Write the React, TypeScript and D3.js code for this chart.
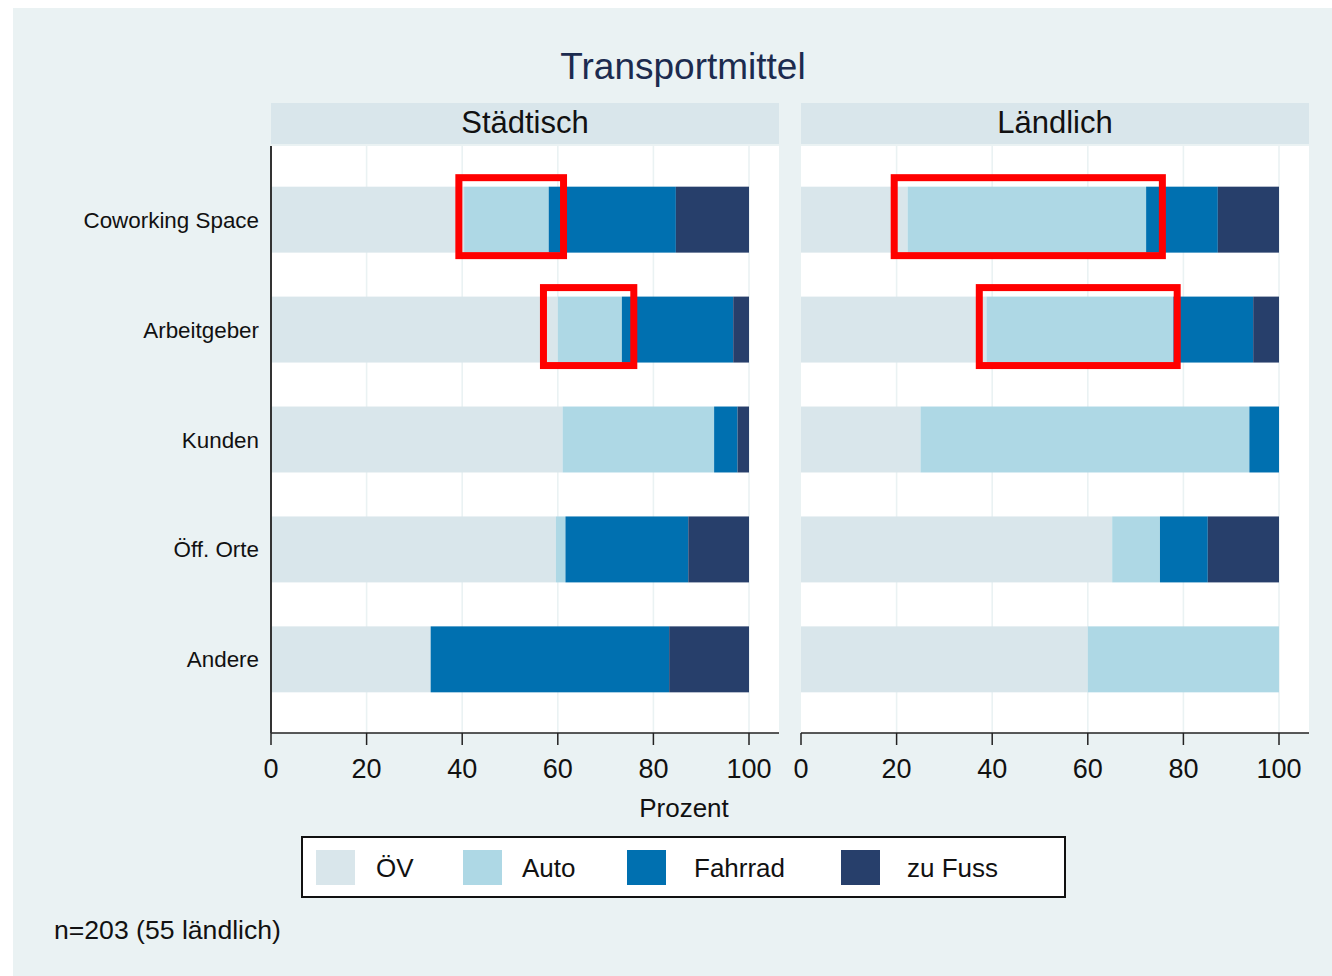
import React from "react";
import * as d3 from "d3";

const categories = ["Coworking Space", "Arbeitgeber", "Kunden", "Öff. Orte", "Andere"];
const modes = ["ÖV", "Auto", "Fahrrad", "zu Fuss"];
const panels = ["Städtisch", "Ländlich"];

// values per category, in mode order (percent)
const staedtisch = [
  [40.4, 17.7, 26.6, 15.3],
  [60.0, 13.4, 23.3, 3.3],
  [61.0, 31.7, 4.9, 2.4],
  [59.6, 2.0, 25.7, 12.7],
  [33.4, 0, 49.9, 16.7],
];
const laendlich = [
  [22.3, 49.9, 15.0, 12.8],
  [38.8, 39.1, 16.7, 5.4],
  [25.0, 68.8, 6.2, 0],
  [65.1, 10.0, 10.0, 14.9],
  [60.0, 40.0, 0, 0],
];
const xTicks = [0, 20, 40, 60, 80, 100];
const gridTicks = [20, 40, 60, 80, 100];
// highlighted ranges (panel index, category, from %, to %)
const highlights = [
  { panel: 0, cat: "Coworking Space", from: 39.3, to: 61.2 },
  { panel: 0, cat: "Arbeitgeber", from: 57.0, to: 75.9 },
  { panel: 1, cat: "Coworking Space", from: 19.5, to: 75.6 },
  { panel: 1, cat: "Arbeitgeber", from: 37.3, to: 78.7 },
];
const title = "Transportmittel";
const xTitle = "Prozent";
const note = "n=203 (55 ländlich)";

const colors = ["#d9e6eb", "#aed8e5", "#0070b0", "#273f6b"];
const FONT = "'Liberation Sans', Arial, Helvetica, sans-serif";

export default function App() {
  const W = 1332, H = 976;
  const panelX = [271, 801];
  const panelW = 508;
  const plotTop = 146, plotBottom = 733;
  const data = [staedtisch, laendlich];

  const y = d3.scaleBand<string>().domain(categories).range([plotTop, plotBottom]).paddingInner(0.4).paddingOuter(0.37);
  const xs = panelX.map((x0) => d3.scaleLinear().domain([0, 100]).range([x0, x0 + 478]));

  const legendX = [316, 463, 627, 841];
  const legendLabelX = [376, 522, 694, 907];

  return (
    <div style={{ position: "absolute", left: 0, top: 0 }}>
      <svg width={W} height={H} style={{ display: "block", fontFamily: FONT }}>
        <rect x={0} y={0} width={W} height={H} fill="#ffffff" />
        <rect x={13} y={8} width={W - 13} height={H - 8} fill="#eaf2f3" />
        <text x={683} y={79} textAnchor="middle" fontSize={37} fill="#1c2b4f">{title}</text>

        {panels.map((p, pi) => {
          const x = xs[pi];
          const x0 = panelX[pi];
          return (
            <g key={p}>
              <rect x={x0} y={103} width={panelW} height={41} fill="#d9e6eb" />
              <text x={x0 + panelW / 2} y={133} textAnchor="middle" fontSize={31} fill="#111">{p}</text>
              <rect x={x0} y={plotTop} width={panelW} height={plotBottom - plotTop} fill="#ffffff" />
              {gridTicks.map((t) => (
                <line key={t} x1={x(t)} x2={x(t)} y1={plotTop} y2={plotBottom} stroke="#eaf2f3" strokeWidth={1.6} />
              ))}
              {categories.map((c, ci) => {
                const vals = data[pi][ci];
                const stack = d3.cumsum(vals);
                return (
                  <g key={c}>
                    {vals.map((v, mi) => {
                      if (v <= 0) return null;
                      const a = mi === 0 ? 0 : stack[mi - 1];
                      const b = stack[mi];
                      return (
                        <rect key={mi} x={x(a)} y={y(c)!} width={x(b) - x(a)} height={y.bandwidth()} fill={colors[mi]} />
                      );
                    })}
                  </g>
                );
              })}
              <line x1={x0} x2={x0 + panelW} y1={plotBottom} y2={plotBottom} stroke="#222" strokeWidth={1.5} />
              {pi === 0 && (
                <line x1={x0} x2={x0} y1={plotTop} y2={plotBottom} stroke="#333" strokeWidth={2} />
              )}
              {xTicks.map((t) => (
                <g key={t}>
                  <line x1={x(t)} x2={x(t)} y1={plotBottom} y2={plotBottom + 12} stroke="#222" strokeWidth={1.5} />
                  <text x={x(t)} y={778} textAnchor="middle" fontSize={27} fill="#111">{t}</text>
                </g>
              ))}
            </g>
          );
        })}

        {categories.map((c) => (
          <text key={c} x={259} y={y(c)! + y.bandwidth() / 2 + 8} textAnchor="end" fontSize={22.4} fill="#111">{c}</text>
        ))}

        {highlights.map((h, i) => {
          const x = xs[h.panel];
          const top = y(h.cat)! - 9;
          const bottom = y(h.cat)! + y.bandwidth() + 3;
          return (
            <rect key={i} x={x(h.from)} y={top} width={x(h.to) - x(h.from)} height={bottom - top} fill="none" stroke="#ff0000" strokeWidth={7} />
          );
        })}

        <text x={684} y={817} textAnchor="middle" fontSize={26} fill="#111">{xTitle}</text>

        <rect x={302} y={837} width={763} height={60} fill="#ffffff" stroke="#111" strokeWidth={2} />
        {modes.map((m, i) => (
          <g key={m}>
            <rect x={legendX[i]} y={850} width={39} height={35} fill={colors[i]} />
            <text x={legendLabelX[i]} y={877} fontSize={26} fill="#111">{m}</text>
          </g>
        ))}

        <text x={54} y={939} fontSize={26.6} fill="#111">{note}</text>
      </svg>
    </div>
  );
}
